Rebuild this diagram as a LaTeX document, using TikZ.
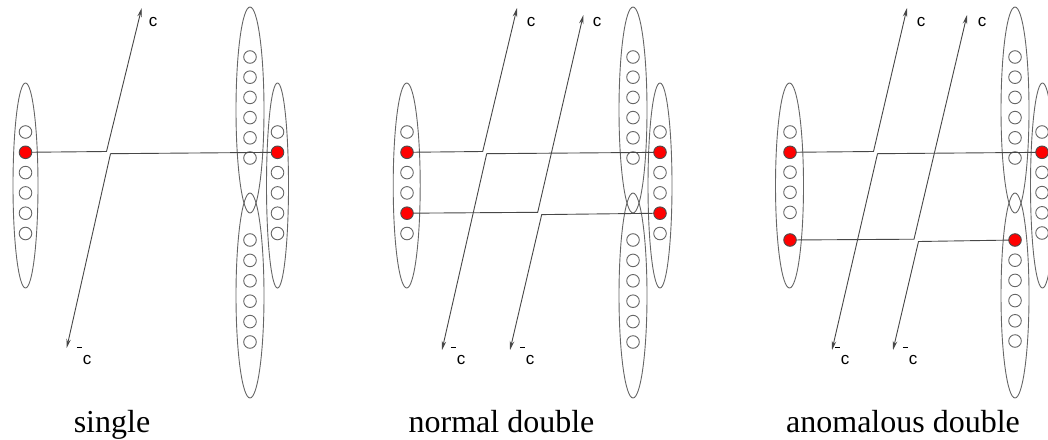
\documentclass[tikz,border=0pt]{standalone}
\usepackage{fontspec}
\setmainfont{Liberation Serif}
\newfontfamily\lab{Liberation Sans}
\usetikzlibrary{arrows.meta}
\newcommand{\cbarlabel}{\makebox[0pt][r]{\raisebox{16pt}{\rule{5pt}{0.9pt}}\kern1pt}c}
\begin{document}
\begin{tikzpicture}[x=1pt,y=-1pt,
  ringline/.style={draw=black!60, line width=0.9pt},
  hole/.style={circle, draw=black!60, line width=0.9pt, minimum size=12.6pt, inner sep=0pt},
  quark/.style={hole, fill=red, draw=black!70},
  arr/.style={draw=black!72, line width=0.9pt, -{Stealth[length=9pt,width=4.5pt]}},
  lbl/.style={font=\lab\fontsize{17}{17}\selectfont, inner sep=0pt, anchor=base},
  captext/.style={font=\fontsize{32}{36}\selectfont, inner sep=0pt, anchor=base}]
\useasboundingbox (0,0) rectangle (1048,439);

% ================= panel 1: single =================
\draw[ringline] (25.5,185.5) ellipse [x radius=12.5pt, y radius=102.5pt];
\draw[ringline] (250,110) ellipse [x radius=14pt, y radius=103pt];
\draw[ringline] (250,295.5) ellipse [x radius=14pt, y radius=102.5pt];
\draw[ringline] (277.5,185.5) ellipse [x radius=11pt, y radius=102.5pt];
\foreach \k in {0,2,3,4,5} \node[hole] (p1L\k) at (25.5,132+20.3*\k) {};
\foreach \k in {0,...,5} \node[hole] (p1U\k) at (250,57+20.2*\k) {};
\foreach \k in {0,...,5} \node[hole] (p1D\k) at (250,240+20.4*\k) {};
\foreach \k in {0,2,3,4,5} \node[hole] (p1R\k) at (277.5,132+20.3*\k) {};
\coordinate (p1A) at (106.5,151.5);
\coordinate (p1B) at (110.5,153.7);
\coordinate (p1c) at (141.7,8);
\coordinate (p1cb) at (66.7,348);
\draw[arr] (25.5,152.3) -- (p1A) -- (p1c);
\draw[arr] (277.5,152.3) -- (p1B) -- (p1cb);
\node[quark] (p1Lr) at (25.5,152.3) {};
\node[quark] (p1Rr) at (277.5,152.3) {};
\node[lbl] (p1cl) at (153,27) {c};
\node[lbl] (p1cbl) at (87,364) {\cbarlabel};
\node[captext] (p1cap) at (112,432) {single};

% ================= panel 2: normal double =================
\draw[ringline] (406.7,185.5) ellipse [x radius=13.5pt, y radius=102.5pt];
\draw[ringline] (633,110) ellipse [x radius=14pt, y radius=103pt];
\draw[ringline] (633,295.5) ellipse [x radius=14pt, y radius=102.5pt];
\draw[ringline] (660,185.5) ellipse [x radius=12pt, y radius=102.5pt];
\foreach \k in {0,2,3,5} \node[hole] (p2L\k) at (407,132+20.3*\k) {};
\foreach \k in {0,...,5} \node[hole] (p2U\k) at (633,57+20.2*\k) {};
\foreach \k in {0,...,5} \node[hole] (p2D\k) at (633,240+20.4*\k) {};
\foreach \k in {0,2,3,5} \node[hole] (p2R\k) at (660,132+20.3*\k) {};
\coordinate (p2A1) at (482.7,151.5);
\coordinate (p2B1) at (486.7,153.7);
\coordinate (p2c1) at (517,8);
\coordinate (p2cb1) at (442,350);
\coordinate (p2A2) at (537.7,212.3);
\coordinate (p2B2) at (541.7,214.6);
\coordinate (p2c2) at (583.3,15);
\coordinate (p2cb2) at (510,350);
\draw[arr] (407,152.3) -- (p2A1) -- (p2c1);
\draw[arr] (660,152.3) -- (p2B1) -- (p2cb1);
\draw[arr] (407,213.2) -- (p2A2) -- (p2c2);
\draw[arr] (660,213.2) -- (p2B2) -- (p2cb2);
\node[quark] (p2Lr1) at (407,152.3) {};
\node[quark] (p2Lr2) at (407,213.2) {};
\node[quark] (p2Rr1) at (660,152.3) {};
\node[quark] (p2Rr2) at (660,213.2) {};
\node[lbl] (p2cl1) at (531,27) {c};
\node[lbl] (p2cl2) at (597,27) {c};
\node[lbl] (p2cbl1) at (461,364) {\cbarlabel};
\node[lbl] (p2cbl2) at (530,364) {\cbarlabel};
\node[captext] (p2cap) at (501.5,432) {normal double};

% ================= panel 3: anomalous double =================
\draw[ringline] (789.5,185.5) ellipse [x radius=14pt, y radius=102.5pt];
\draw[ringline] (1015,110) ellipse [x radius=14pt, y radius=103pt];
\draw[ringline] (1015,295.5) ellipse [x radius=14pt, y radius=102.5pt];
\draw[ringline] (1042.5,185.5) ellipse [x radius=12pt, y radius=102.5pt];
\foreach \k in {0,2,3,4} \node[hole] (p3L\k) at (790,132+20.1*\k) {};
\foreach \k in {0,...,5} \node[hole] (p3U\k) at (1015,57+20.2*\k) {};
\foreach \k in {1,...,5} \node[hole] (p3D\k) at (1015,240+20.2*\k) {};
\foreach \k in {0,2,3,4,5} \node[hole] (p3R\k) at (1042,132+20.2*\k) {};
\coordinate (p3A1) at (873.5,151.5);
\coordinate (p3B1) at (877.5,153.7);
\coordinate (p3c1) at (907,8);
\coordinate (p3cb1) at (832,350);
\coordinate (p3A2) at (914,239.2);
\coordinate (p3B2) at (918.5,241.5);
\coordinate (p3c2) at (967,15);
\coordinate (p3cb2) at (893,350);
\draw[arr] (790,152.3) -- (p3A1) -- (p3c1);
\draw[arr] (1042,152.3) -- (p3B1) -- (p3cb1);
\draw[arr] (790,240) -- (p3A2) -- (p3c2);
\draw[arr] (1015,240) -- (p3B2) -- (p3cb2);
\node[quark] (p3Lr1) at (790,152.3) {};
\node[quark] (p3Lr2) at (790,240) {};
\node[quark] (p3Rr1) at (1042,152.3) {};
\node[quark] (p3Dr) at (1015,240) {};
\node[lbl] (p3cl1) at (921,27) {c};
\node[lbl] (p3cl2) at (982,27) {c};
\node[lbl] (p3cbl1) at (845,364) {\cbarlabel};
\node[lbl] (p3cbl2) at (913,364) {\cbarlabel};
\node[captext] (p3cap) at (903,432) {anomalous double};
\end{tikzpicture}
\end{document}
